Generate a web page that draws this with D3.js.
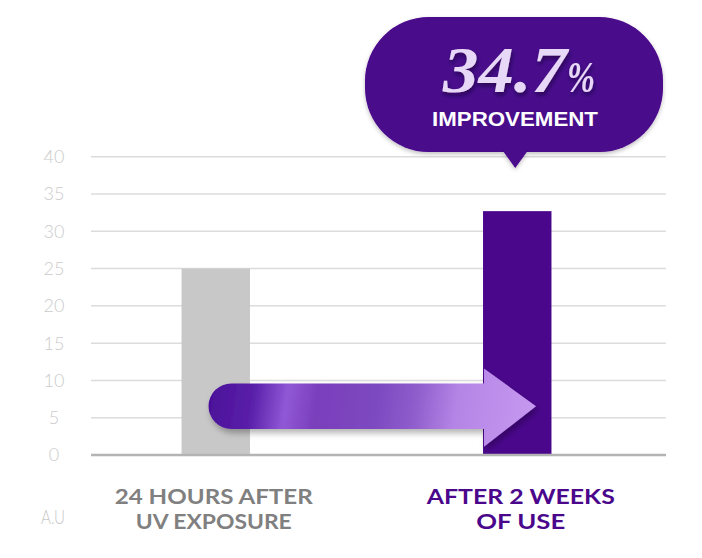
<!DOCTYPE html>
<html><head><meta charset="utf-8">
<script src="https://cdn.jsdelivr.net/npm/d3@7"></script>
<style>
html,body{margin:0;padding:0;background:#fff;}
svg{display:block;}
</style></head>
<body>
<script>
const categories = ["24 HOURS AFTER\nUV EXPOSURE", "AFTER 2 WEEKS\nOF USE"];
const values = [25, 32.7];
const yTicks = [0, 5, 10, 15, 20, 25, 30, 35, 40];
const unitLabel = "A.U";
const improvementValue = "34.7";
const improvementLabel = "IMPROVEMENT";

const W = 702, H = 558;
const svg = d3.select("body").append("svg").attr("width", W).attr("height", H);
const defs = svg.append("defs");

const y = d3.scaleLinear().domain([0, 40]).range([455, 156.7]);
const x = d3.scaleBand().domain(categories).range([65, 668]).paddingInner(0.773).paddingOuter(0.3865);
const gridX0 = 91, gridX1 = 666;

// gridlines
svg.append("g").selectAll("line").data(yTicks.filter(d => d > 0)).join("line")
  .attr("x1", gridX0).attr("x2", gridX1)
  .attr("y1", d => y(d)).attr("y2", d => y(d))
  .attr("stroke", "#dcdcdc").attr("stroke-width", 1.5);

// tick labels
svg.append("g").selectAll("text").data(yTicks).join("text")
  .attr("x", 54).attr("y", d => y(d)).attr("dy", "0.36em")
  .attr("text-anchor", "middle")
  .attr("font-family", "Lato, 'Open Sans', sans-serif").attr("font-weight", 300)
  .attr("font-size", 18).attr("fill", "#cbcbcb")
  .text(d => d);

// bars
const colors = ["#c8c8c8", "#4a078c"];
svg.append("g").selectAll("rect").data(values).join("rect")
  .attr("x", (d, i) => x(categories[i]))
  .attr("width", x.bandwidth())
  .attr("y", d => y(d))
  .attr("height", d => y(0) - y(d))
  .attr("fill", (d, i) => colors[i]);

// baseline
svg.append("line").attr("x1", gridX0).attr("x2", gridX1)
  .attr("y1", y(0)).attr("y2", y(0))
  .attr("stroke", "#b4b4b4").attr("stroke-width", 2.5);

// arrow
const grad = defs.append("linearGradient").attr("id", "arrowGrad")
  .attr("gradientUnits", "userSpaceOnUse")
  .attr("x1", 208).attr("y1", 384).attr("x2", 538).attr("y2", 430);
[[0, "#4a0f98"], [0.14, "#5a20aa"], [0.24, "#9158d6"], [0.33, "#7a3fbc"], [0.5, "#7c48c0"], [0.62, "#8e5ccb"], [0.75, "#b585e6"], [1, "#c79af0"]]
  .forEach(([o, c]) => grad.append("stop").attr("offset", o).attr("stop-color", c));
const shadow = defs.append("filter").attr("id", "shadow").attr("x", "-20%").attr("y", "-40%").attr("width", "140%").attr("height", "180%");
shadow.append("feDropShadow").attr("dx", 2).attr("dy", 4).attr("stdDeviation", 3).attr("flood-color", "#000").attr("flood-opacity", 0.3);

const b0 = x(categories[0]), b1 = x(categories[1]);
const ax0 = b0 + 27, axHead = b1 + 1, axTip = b1 + 53;
const sTop = y(9.6), sBot = y(3.5), hTop = y(11.6), hBot = y(1.1);
const sMid = (sTop + sBot) / 2, r = (sBot - sTop) / 2;
const arrowPath = `M${ax0 + r},${sTop} L${axHead},${sTop} L${axHead},${hTop} L${axTip},${sMid} L${axHead},${hBot} L${axHead},${sBot} L${ax0 + r},${sBot} A${r},${r} 0 0 1 ${ax0 + r},${sTop} Z`;
svg.append("path").attr("d", arrowPath).attr("fill", "url(#arrowGrad)").attr("filter", "url(#shadow)");

// category labels
const catColors = ["#808080", "#4a078c"];
const catOffsets = [-2, 3.5];
const lineWidths = [[198, 156], [188, 89]];
categories.forEach((c, i) => {
  const t = svg.append("text")
    .attr("text-anchor", "middle")
    .attr("font-family", "Lato, 'Open Sans', sans-serif").attr("font-weight", 700)
    .attr("font-size", 20.5).attr("fill", catColors[i]);
  c.split("\n").forEach((line, j) => {
    t.append("tspan").attr("x", x(c) + x.bandwidth() / 2 + catOffsets[i]).attr("y", 504 + j * 25)
      .attr("textLength", lineWidths[i][j]).attr("lengthAdjust", "spacingAndGlyphs")
      .text(line);
  });
});

svg.append("text").attr("x", 53).attr("y", 524).attr("text-anchor", "middle")
  .attr("font-family", "Lato, 'Open Sans', sans-serif").attr("font-weight", 300)
  .attr("font-size", 20).attr("fill", "#c8c8c8")
  .attr("textLength", 24).attr("lengthAdjust", "spacingAndGlyphs")
  .text(unitLabel);

// callout bubble
const bubbleShadow = defs.append("filter").attr("id", "bshadow").attr("x", "-10%").attr("y", "-10%").attr("width", "120%").attr("height", "130%");
bubbleShadow.append("feDropShadow").attr("dx", 0).attr("dy", 2).attr("stdDeviation", 2).attr("flood-color", "#000").attr("flood-opacity", 0.25);
const tipX = x(categories[1]) + x.bandwidth() / 2 - 2;
const bx0 = 365, bx1 = 663, by0 = 17, by1 = 152, br = 64;
const bubble = svg.append("g").attr("filter", "url(#bshadow)");
bubble.append("rect").attr("x", bx0).attr("y", by0).attr("width", bx1 - bx0).attr("height", by1 - by0)
  .attr("rx", br).attr("ry", br).attr("fill", "#4a078c");
bubble.append("path").attr("d", `M${tipX - 13},${by1 - 2} L${tipX + 13},${by1 - 2} L${tipX},${by1 + 16} Z`).attr("fill", "#4a078c");

const txtShadow = defs.append("filter").attr("id", "tshadow").attr("x", "-10%").attr("y", "-20%").attr("width", "130%").attr("height", "150%");
txtShadow.append("feDropShadow").attr("dx", 1).attr("dy", 3).attr("stdDeviation", 2).attr("flood-color", "#12002a").attr("flood-opacity", 0.6);

const big = svg.append("text").attr("x", 443).attr("y", 92).attr("text-anchor", "start")
  .attr("font-family", "'Liberation Serif', 'DejaVu Serif', serif").attr("font-style", "italic")
  .attr("font-weight", 700)
  .attr("fill", "#e8d8f8").attr("filter", "url(#tshadow)");
big.append("tspan").attr("font-size", 66).attr("textLength", 124).attr("lengthAdjust", "spacingAndGlyphs").text(improvementValue);
big.append("tspan").attr("font-size", 44).attr("textLength", 28).attr("lengthAdjust", "spacingAndGlyphs").text("%");

svg.append("text").attr("x", 515).attr("y", 125.5).attr("text-anchor", "middle")
  .attr("font-family", "'Liberation Sans', Arial, sans-serif").attr("font-weight", 700)
  .attr("font-size", 20.5).attr("fill", "#ffffff")
  .attr("textLength", 166).attr("lengthAdjust", "spacingAndGlyphs")
  .text(improvementLabel);
</script>
</body></html>
